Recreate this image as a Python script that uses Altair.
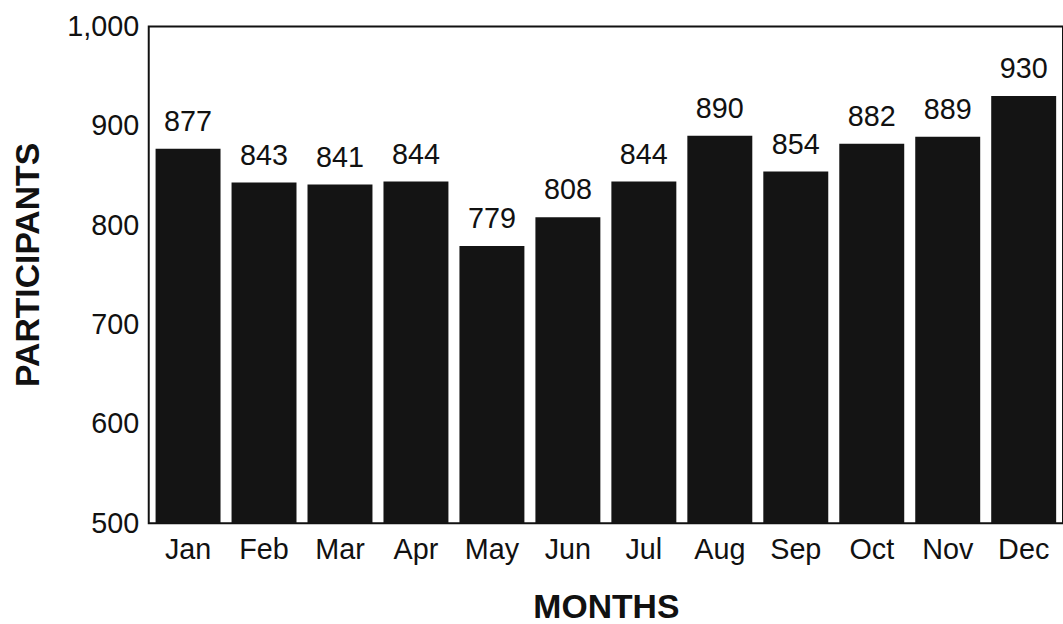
import altair as alt
import pandas as pd

months = ["Jan", "Feb", "Mar", "Apr", "May", "Jun", "Jul", "Aug", "Sep", "Oct", "Nov", "Dec"]
participants = [877, 843, 841, 844, 779, 808, 844, 890, 854, 882, 889, 930]
y_ticks = [500, 600, 700, 800, 900, 1000]

df = pd.DataFrame({"month": months, "participants": participants})

FONT = "Liberation Sans"
INK = "#111111"

x = alt.X("month:N", sort=months,
          scale=alt.Scale(paddingInner=0.145, paddingOuter=0.09),
          axis=alt.Axis(title="MONTHS", labelAngle=0, ticks=False, domain=False,
                        labelFontSize=29, labelPadding=13, labelColor=INK,
                        titleFontSize=34, titleFontWeight="bold", titleColor=INK,
                        titleY=85, titleBaseline="middle"))
y = alt.Y("participants:Q",
          scale=alt.Scale(domain=[500, 1000], zero=False, nice=False),
          axis=alt.Axis(title="PARTICIPANTS", values=y_ticks, format=",d", ticks=False,
                        grid=False, domain=False, labelFontSize=29, labelPadding=10,
                        labelColor=INK, titleFontSize=34, titleFontWeight="bold",
                        titleColor=INK, titleAngle=-90, titleX=-121, titleY=240,
                        titleAlign="center", titleBaseline="middle"))

bars = alt.Chart(df).mark_bar(color="#141414").encode(
    x=x, y=y, y2=alt.Y2(datum=500)
)
labels = alt.Chart(df).mark_text(baseline="bottom", dy=-12, fontSize=29, color=INK,
                                 font=FONT).encode(
    x=alt.X("month:N", sort=months), y="participants:Q", text="participants:Q"
)

chart = (bars + labels).properties(
    width=922, height=501,
    autosize=alt.AutoSizeParams(type="none"),
    padding={"left": 150, "top": 24, "right": 0, "bottom": 99},
    background="white",
).configure(
    font=FONT,
    view=alt.ViewConfig(stroke=INK, strokeWidth=2),
)

chart.save("out.html", embed_options={"renderer": "svg", "actions": False})
